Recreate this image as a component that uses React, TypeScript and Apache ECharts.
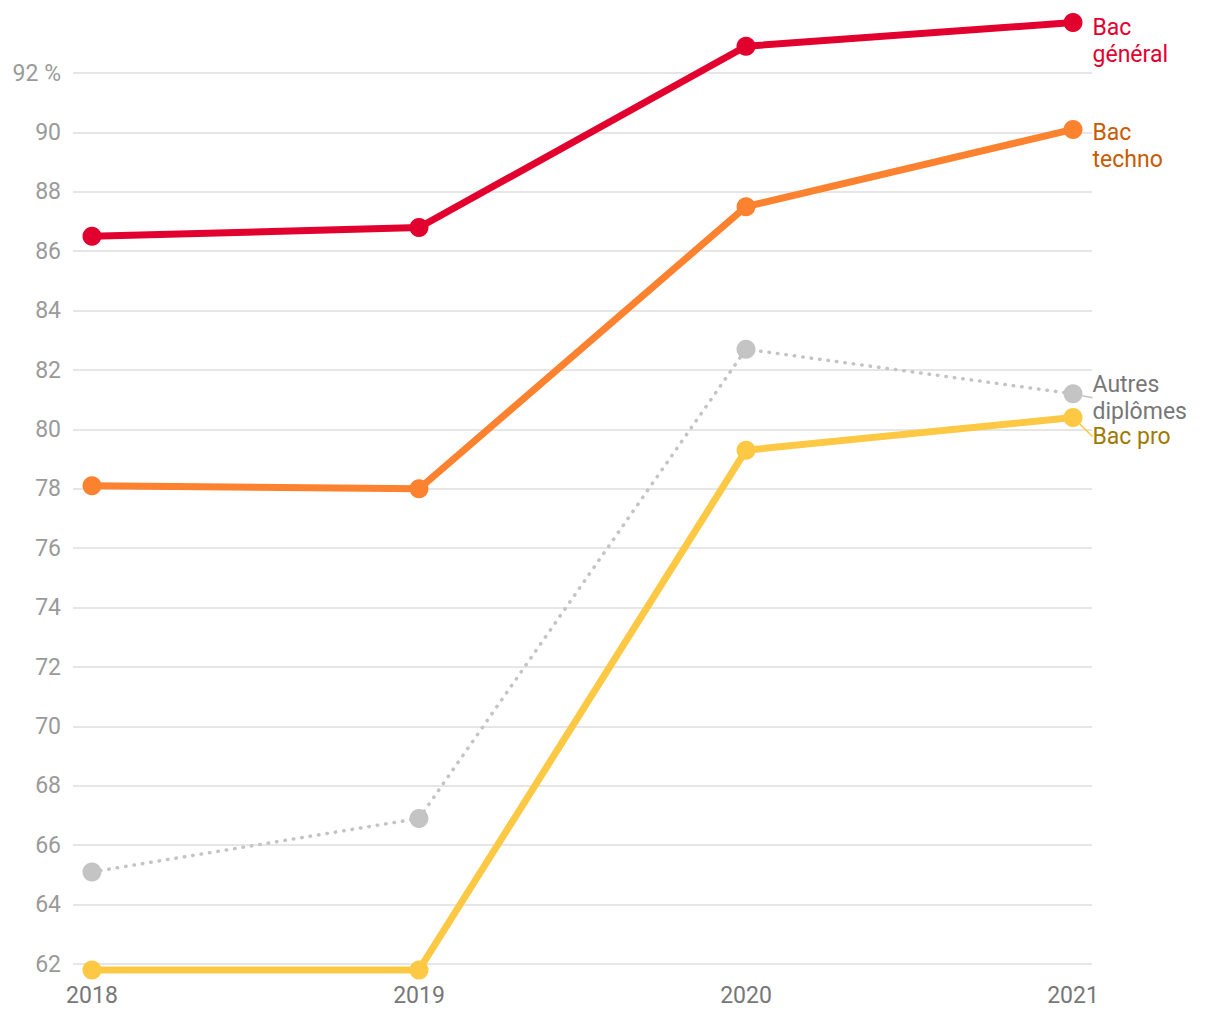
import React, { useEffect, useRef } from "react";
import * as echarts from "echarts";

const years = [2018, 2019, 2020, 2021];
const bacGeneral = [86.5, 86.8, 92.9, 93.7];
const bacTechno = [78.1, 78.0, 87.5, 90.1];
const autresDiplomes = [65.1, 66.9, 82.7, 81.2];
const bacPro = [61.8, 61.8, 79.3, 80.4];
const yMin = 62;
const yMax = 92;
const yStep = 2;

const FONT = "Roboto";
const FS = 23;

function makeSeries(
  name: string,
  values: number[],
  color: string,
  labelColor: string,
  width: number,
  dotted: boolean,
  labelText: string,
  dy: number,
  leader: boolean
) {
  const last = values.length - 1;
  return {
    name,
    type: "line",
    clip: false,
    symbol: "circle",
    symbolSize: 19,
    itemStyle: { color },
    lineStyle: { color, width, type: dotted ? [0.5, 8] : "solid", cap: "round" },
    data: values.map((v, i) =>
      i === last
        ? {
            value: [years[i], v],
            label: {
              show: true,
              position: "right",
              distance: 10,
              formatter: labelText,
              color: labelColor,
              fontSize: FS,
              lineHeight: 27,
              fontFamily: FONT,
              align: "left",
              verticalAlign: "middle",
              offset: leader ? [0, 0] : [0, dy],
            },
          }
        : [years[i], v]
    ),
    labelLayout: leader ? { dy, dx: 0 } : undefined,
    labelLine: leader
      ? { show: true, length2: 0, lineStyle: { color, width: 1.5 } }
      : undefined,
    z: dotted ? 1 : 2,
  };
}

export default function App() {
  const ref = useRef<HTMLDivElement>(null);
  useEffect(() => {
    if (!ref.current) return;
    const chart = echarts.init(ref.current, null, { renderer: "svg" });
    chart.setOption({
      animation: false,
      backgroundColor: "#ffffff",
      textStyle: { fontFamily: FONT },
      grid: { left: 73, right: 128, top: 73, bottom: 56, containLabel: false },
      xAxis: {
        type: "value",
        min: 2017.942,
        max: 2021.058,
        axisLine: { show: false },
        axisTick: { show: false },
        splitLine: { show: false },
        axisLabel: {
          customValues: years,
          formatter: (v: number) => String(v),
          color: "#777777",
          fontSize: FS,
          fontFamily: FONT,
          margin: 20,
        },
      },
      yAxis: {
        type: "value",
        min: yMin,
        max: yMax,
        interval: yStep,
        axisLine: { show: false },
        axisTick: { show: false },
        splitLine: { show: true, lineStyle: { color: "#e6e6e6", width: 2 } },
        axisLabel: {
          formatter: (v: number) => (v === yMax ? `${v} %` : String(v)),
          color: "#9a9a9a",
          fontSize: FS,
          fontFamily: FONT,
          margin: 12,
        },
      },
      series: [
        makeSeries("Autres diplômes", autresDiplomes, "#c4c4c4", "#777777", 3.5, true, "Autres\ndiplômes", 4, true),
        makeSeries("Bac pro", bacPro, "#fdc944", "#a07a00", 7, false, "Bac pro", 19, true),
        makeSeries("Bac techno", bacTechno, "#fd8230", "#c95b00", 7, false, "Bac\ntechno", 17, false),
        makeSeries("Bac général", bacGeneral, "#e2002f", "#e2002f", 7, false, "Bac\ngénéral", 18, false),
      ],
    });
    return () => chart.dispose();
  }, []);
  return (
    <div
      ref={ref}
      style={{ position: "fixed", left: 0, top: 0, width: 1220, height: 1020 }}
    />
  );
}
